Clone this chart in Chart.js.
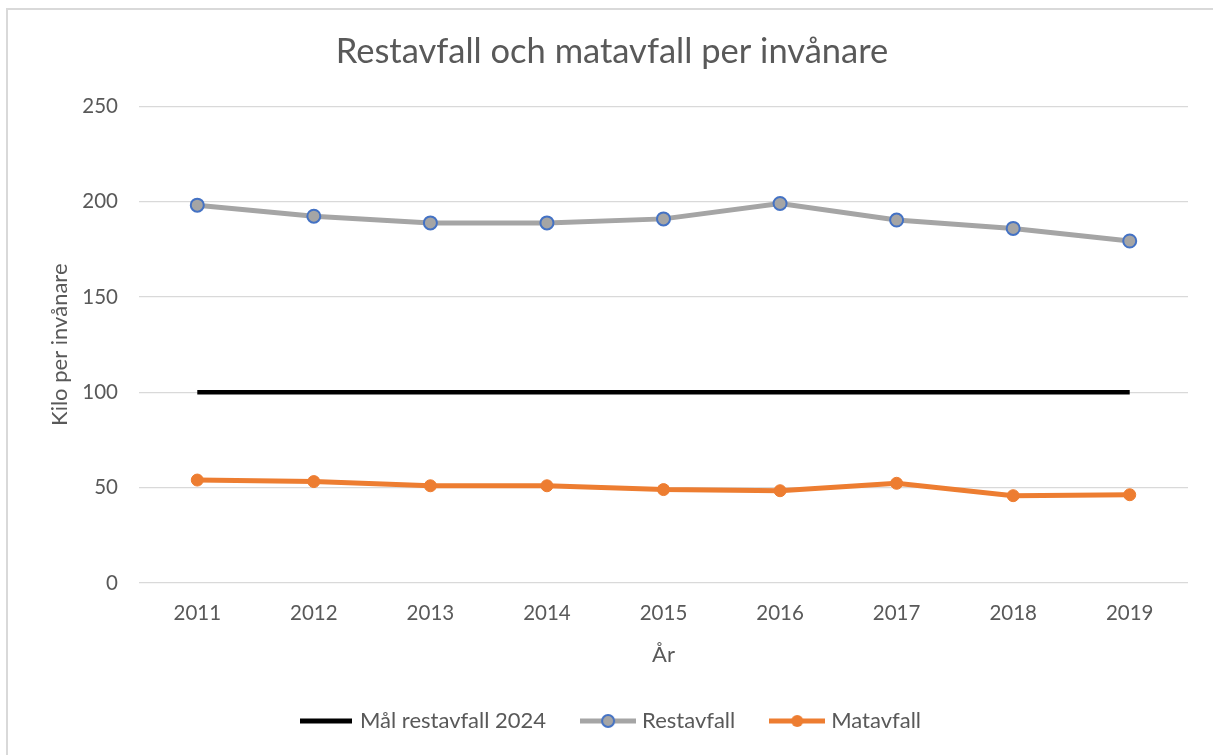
<!DOCTYPE html>
<html lang="sv">
<head>
<meta charset="utf-8">
<title>Restavfall och matavfall per invånare</title>
<script src="https://cdn.jsdelivr.net/npm/chart.js@4"></script>
<style>
  html, body { margin: 0; padding: 0; background: #fff; overflow: hidden; }
  #frame { position: absolute; left: 6px; top: 8px; width: 1400px; height: 900px; border: 2px solid #d9d9d9; }
  #wrap { position: absolute; left: 0; top: 0; width: 1213px; height: 755px; }
</style>
</head>
<body>
<div id="frame"></div>
<div id="wrap"><canvas id="chart" width="1213" height="755"></canvas></div>
<script>
// --- Data ---
const years = ['2011', '2012', '2013', '2014', '2015', '2016', '2017', '2018', '2019'];
const malRestavfall = [100, 100, 100, 100, 100, 100, 100, 100, 100];
const restavfall = [198.2, 192.4, 188.9, 188.9, 191.0, 199.1, 190.4, 186.0, 179.4];
const matavfall = [54.0, 53.2, 51.0, 51.0, 49.0, 48.4, 52.3, 45.8, 46.3];
const yTicks = [0, 50, 100, 150, 200, 250];

const textColor = '#595959';
const fontFamily = 'Lato, "Open Sans", sans-serif';

// legend markers: line with optional circle (wider than the legend box on purpose)
function legendMarker(color, lineW, width, dot) {
    const c = document.createElement('canvas');
    c.width = width;
    c.height = 16;
    const g = c.getContext('2d');
    g.strokeStyle = color;
    g.lineWidth = lineW;
    g.beginPath();
    g.moveTo(0, 8);
    g.lineTo(width, 8);
    g.stroke();
    if (dot) {
        g.beginPath();
        g.arc(width / 2, 8, dot.r, 0, Math.PI * 2);
        g.fillStyle = dot.fill;
        g.fill();
        if (dot.border) {
            g.lineWidth = 2;
            g.strokeStyle = dot.border;
            g.stroke();
        }
    }
    return c;
}

const markers = [
    legendMarker('#000000', 5, 52, null),
    legendMarker('#a5a5a5', 5, 56, { r: 6, fill: '#a5a5a5', border: '#4472c4' }),
    legendMarker('#ed7d31', 5, 56, { r: 6, fill: '#ed7d31' })
];

const ctx = document.getElementById('chart').getContext('2d');
new Chart(ctx, {
    type: 'line',
    data: {
        labels: years,
        datasets: [{
            label: 'Mål restavfall 2024',
            data: malRestavfall,
            borderColor: '#000000',
            borderWidth: 4.5,
            pointRadius: 0,
            tension: 0
        }, {
            label: 'Restavfall',
            data: restavfall,
            borderColor: '#a5a5a5',
            borderWidth: 5,
            pointRadius: 6.5,
            pointBackgroundColor: '#a5a5a5',
            pointBorderColor: '#4472c4',
            pointBorderWidth: 2,
            tension: 0
        }, {
            label: 'Matavfall',
            data: matavfall,
            borderColor: '#ed7d31',
            borderWidth: 5,
            pointRadius: 6,
            pointBackgroundColor: '#ed7d31',
            pointBorderColor: '#ed7d31',
            pointBorderWidth: 1,
            tension: 0
        }]
    },
    options: {
        responsive: false,
        animation: false,
        layout: { padding: { left: 36, right: 25, top: 0, bottom: 13 } },
        scales: {
            x: {
                offset: true,
                grid: { display: false, drawTicks: false },
                border: { display: false },
                ticks: { color: textColor, padding: 18, font: { family: fontFamily, size: 20.5 } },
                title: {
                    display: true,
                    text: 'År',
                    color: textColor,
                    font: { family: fontFamily, size: 22 },
                    padding: { top: 0, bottom: 3 }
                },
                afterFit: function (scale) { scale.height = 88; }
            },
            y: {
                min: 0,
                max: 250,
                afterBuildTicks: function (scale) { scale.ticks = yTicks.map(v => ({ value: v })); },
                grid: { color: '#d9d9d9', lineWidth: 1.3, drawTicks: false },
                border: { display: false },
                ticks: { color: textColor, padding: 21, font: { family: fontFamily, size: 20.5 } },
                title: {
                    display: true,
                    text: 'Kilo per invånare',
                    color: textColor,
                    font: { family: fontFamily, size: 22 },
                    padding: { top: 11, bottom: 0 }
                },
                afterFit: function (scale) { scale.width = 103; }
            }
        },
        plugins: {
            title: {
                display: true,
                text: 'Restavfall och matavfall per invånare',
                color: textColor,
                font: { family: fontFamily, size: 34.5, weight: 'normal' },
                padding: { top: 31, bottom: 34 }
            },
            legend: {
                position: 'bottom',
                labels: {
                    usePointStyle: true,
                    pointStyleWidth: 46,
                    padding: 39,
                    color: textColor,
                    font: { family: fontFamily, size: 22 },
                    generateLabels: function (chart) {
                        return chart.data.datasets.map((ds, i) => ({
                            text: ds.label,
                            fontColor: textColor,
                            pointStyle: markers[i],
                            strokeStyle: 'transparent',
                            fillStyle: 'transparent',
                            lineWidth: 0,
                            hidden: false,
                            datasetIndex: i
                        }));
                    }
                }
            },
            tooltip: { enabled: false }
        }
    }
});
</script>
</body>
</html>
